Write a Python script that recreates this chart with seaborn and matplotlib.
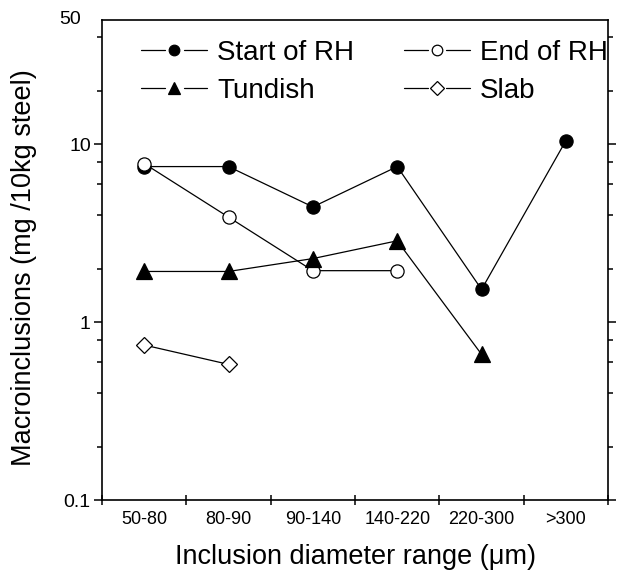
import numpy as np
import pandas as pd
import matplotlib
matplotlib.use("Agg")
import matplotlib.pyplot as plt
import matplotlib.transforms as mtransforms
from matplotlib.lines import Line2D
from matplotlib.legend_handler import HandlerLine2D
import seaborn as sns
from matplotlib.ticker import LogLocator, FixedLocator, NullFormatter

categories = ["50-80", "80-90", "90-140", "140-220", "220-300", ">300"]
start_rh = [7.5, 7.5, 4.45, 7.5, 1.53, 10.5]
end_rh = [7.8, 3.9, 1.95, 1.95]
tundish = [1.93, 1.93, 2.28, 2.87, 0.66]
slab = [0.745, 0.58]

series = [
    ("Start of RH", start_rh, "o", "black", 9.5),
    ("End of RH", end_rh, "o", "white", 9.5),
    ("Tundish", tundish, "^", "black", 11),
    ("Slab", slab, "D", "white", 8.5),
]


class GapHandler(HandlerLine2D):
    def create_artists(self, legend, orig_handle, xdescent, ydescent, width,
                       height, fontsize, trans):
        (legline,) = super().create_artists(legend, orig_handle, xdescent, ydescent,
                                            width, height, fontsize, trans)
        xd = legline.get_xdata()
        yd = legline.get_ydata()
        x0, x1 = xd[0], xd[-1]
        xm = 0.5 * (x0 + x1)
        y = yd[0]
        g = 0.14 * width
        arts = []
        for a, b in [(x0, xm - g), (xm + g, x1)]:
            ln = Line2D([a, b], [y, y], color="black", linewidth=legline.get_linewidth())
            ln.set_transform(trans)
            arts.append(ln)
        mk = Line2D([xm], [y], linestyle="none", marker=legline.get_marker(),
                    markersize=legline.get_markersize(),
                    markerfacecolor=legline.get_markerfacecolor(),
                    markeredgecolor="black",
                    markeredgewidth=legline.get_markeredgewidth())
        mk.set_transform(trans)
        arts.append(mk)
        return arts


sns.set_theme(style="ticks")
plt.rcParams["font.family"] = ["Liberation Sans", "DejaVu Sans"]
plt.rcParams["text.color"] = "black"
plt.rcParams["axes.labelcolor"] = "black"
plt.rcParams["xtick.color"] = "black"
plt.rcParams["ytick.color"] = "black"
plt.rcParams["xtick.labelcolor"] = "black"
plt.rcParams["ytick.labelcolor"] = "black"

fig = plt.figure(figsize=(6.18, 5.71), dpi=100)
ax = fig.add_axes([0.165, 0.124, 0.819, 0.841])

for name, vals, mk, fc, ms in series:
    xs = np.arange(len(vals)) + 0.5
    df = pd.DataFrame({"x": xs, "y": vals})
    sns.lineplot(data=df, x="x", y="y", ax=ax, color="black", linewidth=0.9,
                 marker=mk, markersize=ms, markerfacecolor=fc,
                 markeredgecolor="black", markeredgewidth=0.9, label=name)

ax.set_yscale("log")
ax.set_ylim(0.1, 50)
ax.set_xlim(0, 6)

ax.xaxis.set_major_locator(FixedLocator(np.arange(0, 7)))
ax.xaxis.set_major_formatter(NullFormatter())
ax.xaxis.set_minor_locator(FixedLocator(np.arange(len(categories)) + 0.5))
ax.set_xticklabels(categories, minor=True)
ax.tick_params(axis="x", which="major", direction="inout", length=7, width=1.1,
               top=False, colors="black")
ax.tick_params(axis="x", which="minor", length=0, labelsize=13, pad=8,
               colors="black", labelcolor="black")

ax.set_yticks([0.1, 1, 10, 50])
ax.set_yticklabels(["0.1", "1", "10", "50"])
ax.yaxis.set_minor_locator(LogLocator(base=10, subs=[2, 4, 6, 8]))
ax.yaxis.set_minor_formatter(NullFormatter())
ax.tick_params(axis="y", which="major", direction="out", length=6, width=1.1,
               right=True, labelsize=14, pad=2, colors="black", labelcolor="black")
ax.tick_params(axis="y", which="minor", direction="out", length=3.5, width=1.1,
               right=True, colors="black")
yt = ax.yaxis.get_major_ticks()[-1]
yt.tick1line.set_visible(False)
yt.tick2line.set_visible(False)
yt.label1.set_transform(yt.label1.get_transform() +
                        mtransforms.ScaledTranslation(-0.10, 0.02, fig.dpi_scale_trans))

for s in ax.spines.values():
    s.set_linewidth(1.2)
    s.set_color("black")

ax.set_xlabel("Inclusion diameter range (\u03bcm)", fontsize=19.5, labelpad=11,
              color="black")
ax.set_ylabel("Macroinclusions (mg /10kg steel)", fontsize=19.5, color="black")
ax.yaxis.set_label_coords(-0.128, 0.485)

handles, labels = ax.get_legend_handles_labels()
hmap = dict(zip(labels, handles))
order = ["Start of RH", "Tundish", "End of RH", "Slab"]
ax.legend([hmap[k] for k in order], order, loc="upper left",
          bbox_to_anchor=(0.078, 0.958), ncol=2, frameon=False,
          fontsize=20, handlelength=2.37, handletextpad=0.36, columnspacing=1.8,
          labelspacing=0.42, borderpad=0, borderaxespad=0, markerscale=0.8,
          labelcolor="black", handler_map={Line2D: GapHandler()})

fig.savefig("out.png", dpi=100)
